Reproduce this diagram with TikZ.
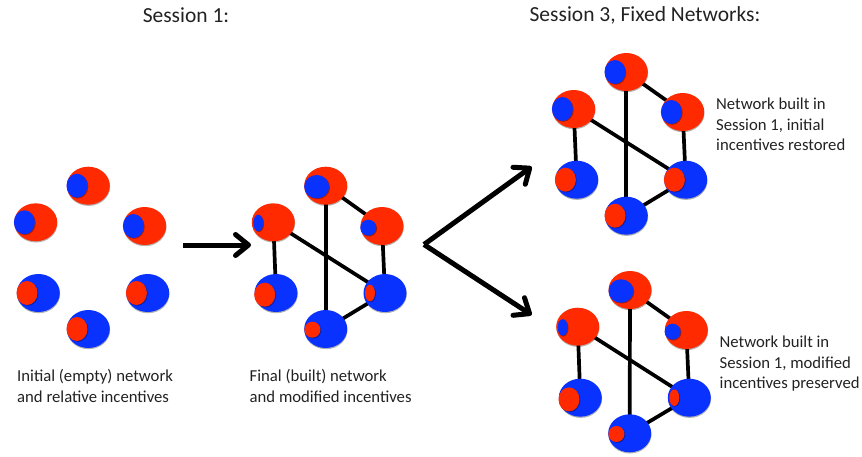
\documentclass[tikz,border=0pt]{standalone}
\usepackage{fontspec}
\setmainfont{Carlito}
\usetikzlibrary{arrows.meta,shadows,backgrounds,shapes.geometric}
\definecolor{netred}{HTML}{FF2A00}
\definecolor{netblue}{HTML}{0A32FF}
\definecolor{txt}{HTML}{222222}
\tikzset{
  agent/.style={ellipse,minimum width=43pt,minimum height=38pt,inner sep=0pt,
    drop shadow={shadow xshift=0.3pt,shadow yshift=-1.2pt,opacity=.3,fill=black}},
  redagent/.style={agent,fill=netred},
  blueagent/.style={agent,fill=netblue},
  inc/.style={ellipse,inner sep=0pt,
    drop shadow={shadow xshift=0.8pt,shadow yshift=-0.8pt,opacity=.35,fill=black}},
  incbig/.style={inc,minimum width=21pt,minimum height=24pt},
  incwide/.style={inc,minimum width=25pt,minimum height=23.5pt},
  incmid/.style={inc,minimum width=16pt,minimum height=16pt},
  incthin/.style={inc,minimum width=10pt,minimum height=16.6pt},
  tie/.style={line width=3.7pt,black},
  bigarrow/.style={line width=5pt,black,-{Straight Barb[length=13pt,width=21pt,line width=5pt,round]}},
  caption/.style={align=left,anchor=north west,inner sep=0pt,font=\fontsize{16.7}{20.5}\selectfont,text=txt},
  title/.style={inner sep=0pt,font=\fontsize{21.5}{24}\selectfont,text=txt},
}
% #1 prefix, #2 x, #3 y, #4 node kind, #5 incentive style, #6 incentive colour, #7 dx, #8 dy
\newcommand{\agentnode}[8]{%
  \node[#4] (#1) at (#2,#3) {};
  \node[#5,fill=#6] (#1i) at (#2+#7,#3+#8) {};
}
\newcommand{\netties}[1]{%
  \begin{pgfonlayer}{background}
  \draw[tie] (#1ul.center) -- (#1ll.center);
  \draw[tie] (#1ul.center) -- (#1lr.center);
  \draw[tie] (#1t.center) -- (#1b.center);
  \draw[tie] (#1t.center) -- (#1ur.center);
  \draw[tie] (#1ur.center) -- (#1lr.center);
  \draw[tie] (#1b.center) -- (#1lr.center);
  \end{pgfonlayer}%
}
\begin{document}
\begin{tikzpicture}[x=1pt,y=-1pt]
\useasboundingbox (0,0) rectangle (862,456);
\node[title] (s1) at (186,15.5) {Session 1:};
\node[title] (s3) at (645,15.5) {Session 3, Fixed Networks:};
% Network A
\agentnode{at}{88.3}{185.7}{redagent}{incbig}{netblue}{-11.3}{0}
\agentnode{aul}{35.7}{222.3}{redagent}{incbig}{netblue}{-11.3}{0}
\agentnode{aur}{144.7}{226}{redagent}{incbig}{netblue}{-11.3}{0}
\agentnode{all}{38.3}{293}{blueagent}{incbig}{netred}{-11.3}{0}
\agentnode{alr}{147.7}{293}{blueagent}{incbig}{netred}{-11.3}{0}
\agentnode{ab}{88.3}{329}{blueagent}{incbig}{netred}{-11.3}{0}
% Network B
\agentnode{bt}{325.7}{185.7}{redagent}{incwide}{netblue}{-9}{1}
\agentnode{bul}{273.3}{222.3}{redagent}{incthin}{netblue}{-15}{0.7}
\agentnode{bur}{382}{226}{redagent}{incmid}{netblue}{-13.7}{1.7}
\agentnode{bll}{276}{293}{blueagent}{incbig}{netred}{-11.3}{1.7}
\agentnode{blr}{385}{293}{blueagent}{incthin}{netred}{-15}{0}
\agentnode{bb}{325.7}{329}{blueagent}{incmid}{netred}{-13.3}{0.7}
\netties{b}
% Network C
\agentnode{ct}{626.3}{72}{redagent}{incbig}{netblue}{-11.3}{0}
\agentnode{cul}{573.7}{109}{redagent}{incbig}{netblue}{-11.3}{0}
\agentnode{cur}{682.7}{112}{redagent}{incbig}{netblue}{-11.3}{0}
\agentnode{cll}{576.7}{179.7}{blueagent}{incbig}{netred}{-11.3}{0}
\agentnode{clr}{685.7}{179.7}{blueagent}{incbig}{netred}{-11.3}{0}
\agentnode{cb}{626.3}{215.7}{blueagent}{incbig}{netred}{-11.3}{0}
\netties{c}
% Network D
\agentnode{dt}{630}{290}{redagent}{incwide}{netblue}{-9}{1}
\agentnode{dul}{577.7}{326.7}{redagent}{incthin}{netblue}{-15}{0.7}
\agentnode{dur}{686.3}{330}{redagent}{incmid}{netblue}{-13.7}{1.7}
\agentnode{dll}{580.3}{397.7}{blueagent}{incbig}{netred}{-11.3}{1.7}
\agentnode{dlr}{689.3}{397.7}{blueagent}{incthin}{netred}{-15}{0}
\agentnode{db}{629.7}{433.3}{blueagent}{incmid}{netred}{-13.3}{0.7}
\netties{d}
% Arrows
\coordinate (a1s) at (183,245);
\coordinate (a1e) at (251,245);
\coordinate (fork) at (424,244.5);
\coordinate (fu) at (531.7,166.7);
\coordinate (fd) at (531.7,315);
\draw[bigarrow] (a1s) -- (a1e);
\draw[bigarrow] (fork) -- (fu);
\draw[bigarrow] (fork) -- (fd);
% Captions
\node[caption] (c1) at (17,369.5) {Initial (empty) network\\and relative incentives};
\node[caption] (c2) at (249.5,369.5) {Final (built) network\\and modified incentives};
\node[caption] (c3) at (716,98) {Network built in\\Session 1, initial\\incentives restored};
\node[caption] (c4) at (719.5,336) {Network built in\\Session 1, modified\\incentives preserved};
\end{tikzpicture}
\end{document}
